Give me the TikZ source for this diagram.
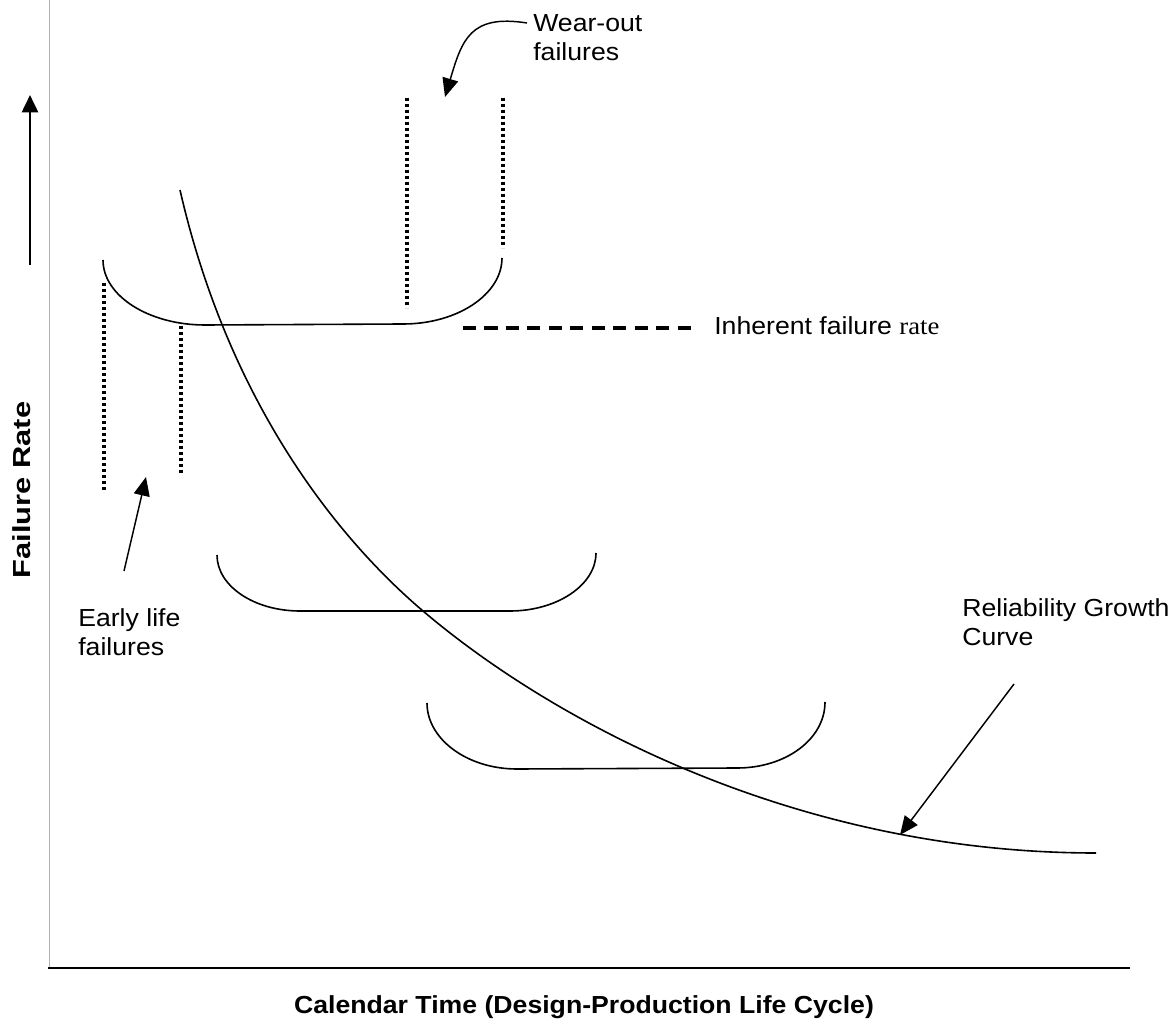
\documentclass[tikz,border=0pt]{standalone}
\usepackage{fontspec}
\setmainfont{Liberation Sans}
\newfontfamily\timesfont{Liberation Serif}
\usetikzlibrary{arrows.meta}

\begin{document}
\begin{tikzpicture}[
  x=0.75pt, y=-0.75pt,
  lbl/.style={font=\fontsize{18.5}{22}\selectfont, inner sep=0pt, align=left, xscale=1.08},
  axlbl/.style={font=\fontsize{18.5}{22}\selectfont\bfseries, inner sep=0pt},
  growth/.style={line width=1.2pt},
  bracket/.style={line width=1.2pt},
  dotline/.style={line width=2.5pt, dash pattern=on 2.3pt off 2.2pt},
  inh/.style={line width=2.6pt, dash pattern=on 9.8pt off 6.3pt},
  arr/.style={-{Triangle[length=14pt, width=12pt]}, line width=1.1pt},
  uparr/.style={-{Triangle[length=13pt, width=12pt]}, line width=2pt}
]
\useasboundingbox (0,0) rectangle (1175,1023);

% Axes
\draw[black!30, line width=0.6pt] (49,0) -- (49,968);
\draw[line width=1.6pt] (48,968) -- (1130,968);
\draw[uparr] (30,265) -- (30,95);

\node[axlbl, rotate=90, xscale=1.25] (yname) at (22,490) {Failure Rate};
\node[axlbl, anchor=base, xscale=1.08] (xname) at (584,1013) {Calendar Time (Design-Production Life Cycle)};

% Reliability growth curve
\draw[growth] (180,190) .. controls (235,430) and (363,560) .. (423,611)
  .. controls (553,721.5) and (796,853) .. (1096,853);

% Bathtub brackets
\draw[bracket] (103,260) .. controls (103,296) and (149,325) .. (205,325) -- (403,324)
  .. controls (458,324) and (502,294) .. (502,258);
\draw[bracket] (217,555) .. controls (217,586) and (254,611) .. (300,611) -- (510,611)
  .. controls (557,611) and (596,585) .. (596,553);
\draw[bracket] (427,703) .. controls (427,739) and (467,769) .. (517,769) -- (737,768)
  .. controls (786,768) and (825,739) .. (825,702);

% Dotted limits
\draw[dotline] (104,283) -- (104,492);
\draw[dotline] (181,326) -- (181,475);
\draw[dotline] (407,98) -- (407,308);
\draw[dotline] (503,98) -- (503,248);

% Inherent failure rate
\node[lbl, anchor=base west] (inherent) at (714,335) {Inherent failure {\timesfont rate}};
\coordinate (inhstart) at (463,328);
\draw[inh] (inhstart) -- ([xshift=-14]inherent.west |- inhstart);

% Labels and pointers
\node[lbl, anchor=north west] (wear) at (533,14) {Wear-out\\failures};
\node[lbl, anchor=north west] (early) at (78,608) {Early life\\failures};
\node[lbl, anchor=north west] (curve) at (962,598) {Reliability Growth\\Curve};

\coordinate (weartip) at (445,97);
\coordinate (earlytip) at (146,477);
\coordinate (curvetip) at (900,835);

\draw[arr] ([shift={(-6,9)}]wear.north west) .. controls (470,14) and (462,40) .. (weartip);
\draw[arr] ([shift={(46,-37)}]early.north west) -- (earlytip);
\draw[arr] ([shift={(52,86)}]curve.north west) -- (curvetip);

\end{tikzpicture}
\end{document}
